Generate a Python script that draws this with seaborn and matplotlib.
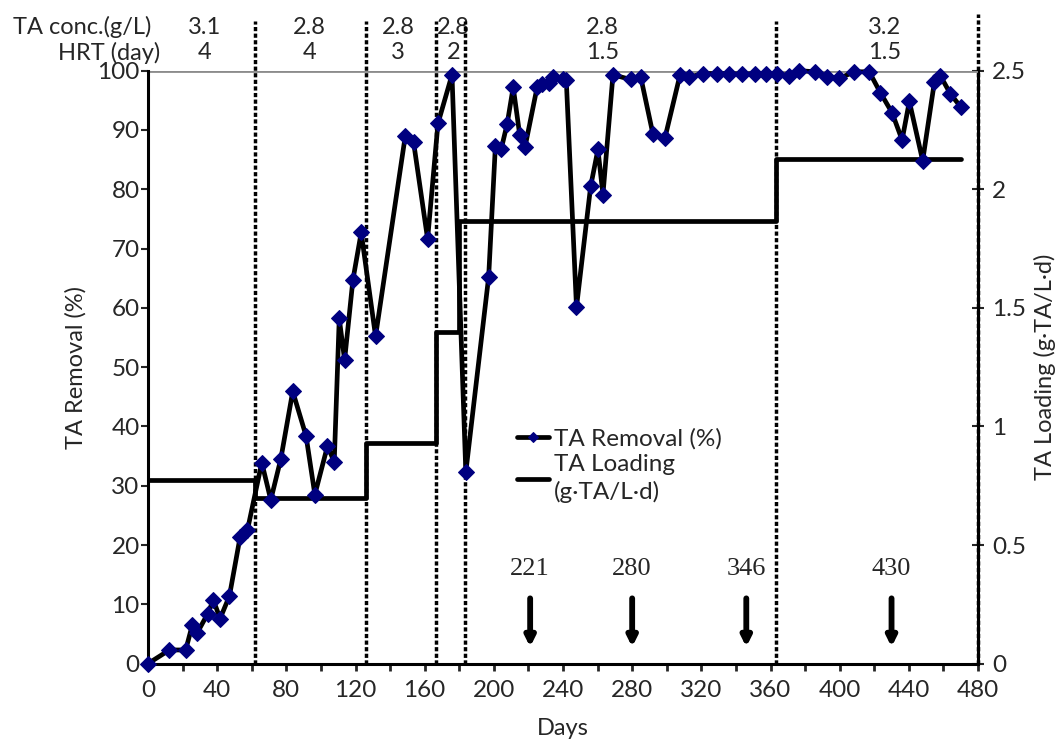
import matplotlib
matplotlib.use("Agg")
import matplotlib.pyplot as plt
from matplotlib.ticker import MultipleLocator
import seaborn as sns
import pandas as pd

# ---------------- data ----------------
removal_days = [0, 12.4, 21.8, 25.6, 28.5, 34.5, 37.8, 41.7, 47.1, 53.3, 57.5,
                65.8, 71, 76.8, 83.7, 91.4, 96.5, 103.8, 107.7, 110.6, 113.7,
                118.5, 123.3, 131.6, 148.8, 153.6, 161.7, 167.7, 175.8, 183.8,
                197, 200.9, 204.2, 207.7, 211.2, 215, 218.1, 225.1, 228, 231.8,
                234.1, 239.9, 241.9, 247.8, 256, 260.2, 263.1, 268.9, 279.1,
                284.9, 292, 299, 307.7, 312.9, 321.2, 328.9, 336.1, 343.8,
                350.9, 357.3, 363.7, 370.8, 376.2, 385.6, 392.6, 399.9, 408.4,
                417.1, 423.5, 430.3, 436.1, 440.3, 448, 454.8, 458.3, 464, 470.2]
removal_pct = [0, 2.3, 2.3, 6.5, 5.2, 8.4, 10.7, 7.6, 11.4, 21.4, 22.5,
               33.9, 27.6, 34.5, 45.9, 38.4, 28.5, 36.7, 34.0, 58.2, 51.2,
               64.7, 72.7, 55.2, 89.0, 87.9, 71.6, 91.1, 99.3, 32.3,
               65.2, 87.3, 86.7, 91.0, 97.2, 89.1, 87.2, 97.3, 97.7, 97.9,
               99.0, 98.5, 98.4, 60.1, 80.5, 86.7, 79.1, 99.3, 98.5,
               99.0, 89.3, 88.7, 99.3, 98.9, 99.5, 99.5, 99.5, 99.4,
               99.5, 99.5, 99.5, 99.1, 100, 99.8, 99.0, 98.7, 99.8,
               99.8, 96.3, 92.9, 88.3, 94.8, 84.8, 98.1, 99.1, 96.1, 93.8]

loading_days = [0, 62, 126.2, 166.8, 180, 363, 470]
loading_vals = [0.774, 0.70, 0.929, 1.40, 1.866, 2.127, 2.127]

phase_bounds = [62, 126.2, 166.8, 183.5, 363, 480]
phase_tops = [108.3, 108.3, 108.3, 108.3, 108.3, 109.5]

phase_label_x = [32.5, 93.5, 144.7, 176.5, 263, 426]
ta_conc = ["3.1", "2.8", "2.8", "2.8", "2.8", "3.2"]
hrt = ["4", "4", "3", "2", "1.5", "1.5"]

arrow_days = [221, 280, 346, 430]
arrow_labels = ["221", "280", "346", "430"]

# ---------------- style ----------------
sns.set_style("white")
plt.rcParams["font.family"] = ["Lato", "DejaVu Sans"]

W, H = 1062, 746
fig = plt.figure(figsize=(W / 100, H / 100), dpi=100)
ax = fig.add_axes([148 / W, 1 - 663.6 / H, 830 / W, 593 / H])
ax2 = ax.twinx()
ax.set_zorder(ax2.get_zorder() + 1)
ax.patch.set_visible(False)

df_rem = pd.DataFrame({"Days": removal_days, "Removal": removal_pct})
df_load = pd.DataFrame({"Days": loading_days, "Loading": loading_vals})

ax.axhline(100, color="#8c8c8c", lw=2, zorder=1)

sns.lineplot(data=df_load, x="Days", y="Loading", ax=ax2, color="black",
             lw=3.4, drawstyle="steps-post", label="TA Loading\n(g\u00b7TA/L\u00b7d)",
             legend=False)
sns.lineplot(data=df_rem, x="Days", y="Removal", ax=ax, color="black", lw=3.4,
             marker="D", markersize=8.5, markerfacecolor="#000080",
             markeredgecolor="#000080", label="TA Removal (%)", legend=False,
             clip_on=False, zorder=5)

for d, top in zip(phase_bounds, phase_tops):
    ax.plot([d, d], [0, top], color="black", lw=2.5, ls=(0, (1.2, 0.7)),
            clip_on=False, zorder=4)

# top phase labels
fs_top = 17
ax.text(1.7, 107.3, "TA conc.(g/L)", ha="right", va="center", fontsize=fs_top)
ax.text(7, 103.0, "HRT (day)", ha="right", va="center", fontsize=fs_top)
for x, c, h in zip(phase_label_x, ta_conc, hrt):
    ax.text(x, 107.3, c, ha="center", va="center", fontsize=fs_top, clip_on=False)
    ax.text(x, 103.0, h, ha="center", va="center", fontsize=fs_top, clip_on=False)

# arrows
for d, lab in zip(arrow_days, arrow_labels):
    ax.text(d, 15.9, lab, ha="center", va="center", fontsize=19,
            family="Liberation Serif")
    ax.annotate("", xy=(d, 2.8), xytext=(d, 11.0),
                arrowprops=dict(arrowstyle="-|>,head_length=0.4,head_width=0.2",
                                color="black", lw=4.2, mutation_scale=14,
                                shrinkA=0, shrinkB=0))

# axes
ax.set_xlim(0, 480)
ax.set_ylim(0, 100)
ax2.set_ylim(0, 2.5)
ax.xaxis.set_major_locator(MultipleLocator(40))
ax.xaxis.set_minor_locator(MultipleLocator(20))
ax.yaxis.set_major_locator(MultipleLocator(10))
ax2.set_yticks([0, 0.5, 1, 1.5, 2, 2.5])
ax2.set_yticklabels(["0", "0.5", "1", "1.5", "2", "2.5"])

fs_tick = 17.5
ax.tick_params(axis="x", which="both", direction="out", length=5, width=2,
               labelsize=fs_tick, pad=7, bottom=True)
ax.tick_params(axis="y", direction="out", length=5, width=1.5, labelsize=fs_tick,
               pad=1, left=True)
ax2.tick_params(axis="y", direction="inout", length=8, width=1.5, labelsize=fs_tick,
                pad=6, right=True)

for a in (ax, ax2):
    a.spines["top"].set_visible(False)
    for s in ("left", "bottom", "right"):
        a.spines[s].set_color("black")
        a.spines[s].set_linewidth(2.2)
ax.spines["right"].set_visible(False)
ax2.spines["left"].set_visible(False)
ax2.spines["bottom"].set_visible(False)

ax.set_xlabel("Days", fontsize=17, labelpad=12)
ax.set_ylabel("TA Removal (%)", fontsize=17, labelpad=8)
ax2.set_ylabel("TA Loading (g\u00b7TA/L\u00b7d)", fontsize=17, labelpad=6)

h1, l1 = ax.get_legend_handles_labels()
h2, l2 = ax2.get_legend_handles_labels()
leg = ax.legend(h1 + h2, l1 + l2, loc="upper left",
                bbox_to_anchor=(0.43, 0.418), frameon=False, fontsize=17.5,
                handlelength=1.3, handletextpad=0.2, borderpad=0,
                labelspacing=0.2, markerscale=0.6)
for t in leg.get_texts():
    t.set_linespacing(1.3)

fig.savefig("out.png", dpi=100)
